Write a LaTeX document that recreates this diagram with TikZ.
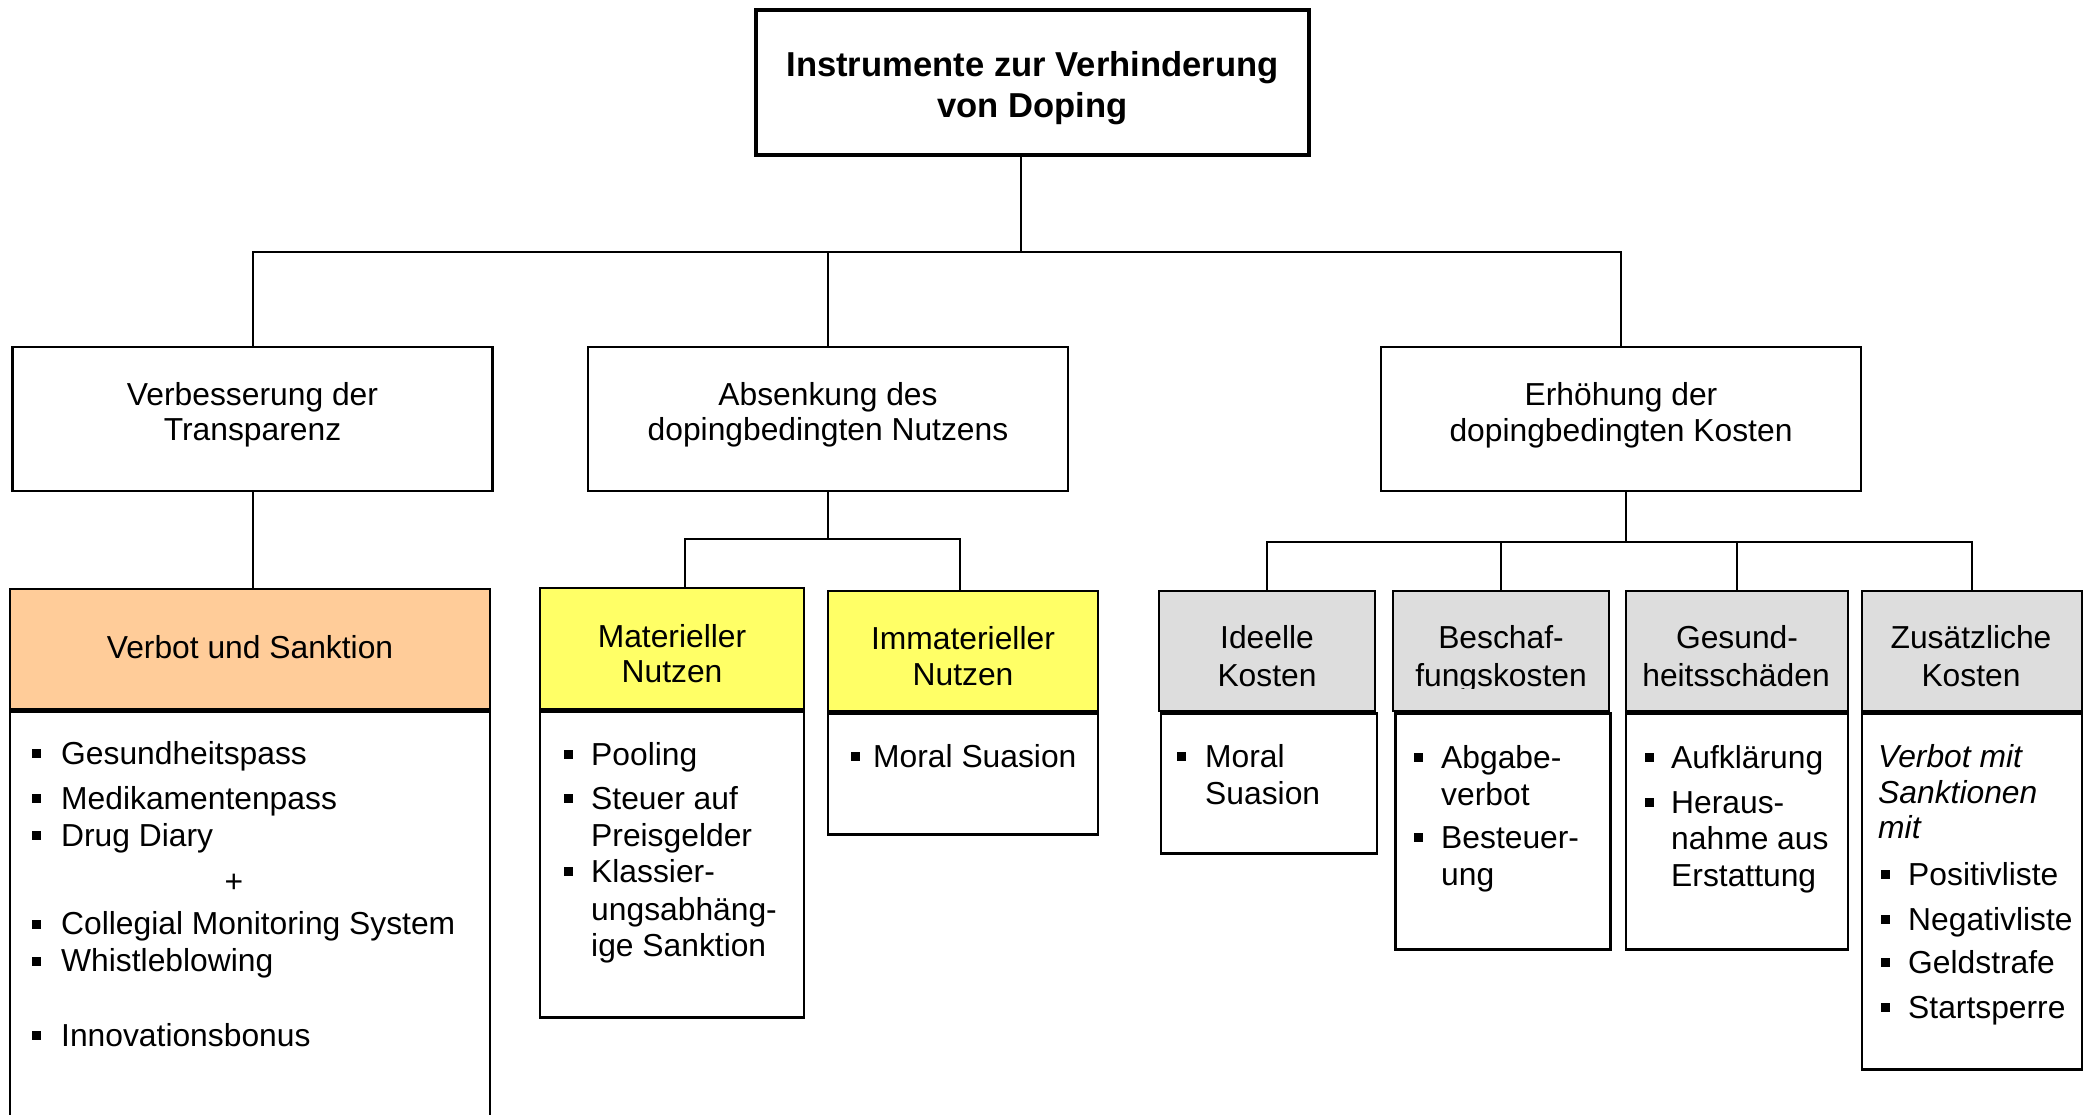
\documentclass[tikz,border=0pt]{standalone}
\usepackage{fontspec}
\setmainfont{Liberation Sans}
\usetikzlibrary{calc}
\definecolor{orangehead}{HTML}{FFCC99}
\definecolor{yellowhead}{HTML}{FFFF66}
\definecolor{grayhead}{HTML}{DDDDDD}
\newcommand{\txt}{\fontsize{31.8}{36}\selectfont}
\newcommand{\bul}[1][27pt]{\makebox[#1][l]{\rule[6pt]{9pt}{9pt}}}

\begin{document}
\begin{tikzpicture}[x=1pt,y=-1pt,
  box/.style={draw, line width=2.5pt, inner sep=0pt},
  head/.style={box, minimum height=120pt},
  body/.style={box, anchor=north, fill=white},
  conn/.style={line width=2pt},
  item/.style={anchor=base west, inner sep=0pt, font=\txt}]
  \useasboundingbox (0,0) rectangle (2092,1114);
  % Define the top and second level boxes
  \node[box, line width=4pt, minimum width=553pt, minimum height=145pt] (top) at (1032.5,82.5) {};
  \node[box, minimum width=480pt, minimum height=144pt] (verb) at (252.5,419) {};
  \node[box, minimum width=480pt, minimum height=144pt] (abs) at (828,419) {};
  \node[box, minimum width=480pt, minimum height=144pt] (erh) at (1621,419) {};
  % Draw the headers and their bodies
  \node[head, fill=orangehead, minimum width=480pt] (verbot) at (250,649) {};
  \node[body, minimum width=480pt, minimum height=421pt] (verbotbody) at (verbot.south) {};
  \node[head, fill=yellowhead, minimum width=264pt, minimum height=121pt] (mat) at (672,648.5) {};
  \node[body, minimum width=264pt, minimum height=306pt] (matbody) at (mat.south) {};
  \node[head, fill=yellowhead, minimum width=270pt] (imm) at (963,651) {};
  \node[body, minimum width=270pt, minimum height=121pt] (immbody) at (imm.south) {};
  \node[head, fill=grayhead, minimum width=216pt] (ide) at (1267,651) {};
  \node[body, minimum width=216pt, minimum height=140pt] (idebody) at ([xshift=2pt]ide.south) {};
  \node[head, fill=grayhead, minimum width=216pt] (besch) at (1501,651) {};
  \node[body, minimum width=215pt, minimum height=236pt] (beschbody) at ([xshift=2pt]besch.south) {};
  \node[head, fill=grayhead, minimum width=222pt] (ges) at (1737,651) {};
  \node[body, minimum width=222pt, minimum height=236pt] (gesbody) at (ges.south) {};
  \node[head, fill=grayhead, minimum width=220pt] (zus) at (1972,651) {};
  \node[body, minimum width=220pt, minimum height=356pt] (zusbody) at (zus.south) {};
  % Box titles, one node per line
  \node[item, anchor=base, font=\fontsize{34.6}{41}\selectfont\bfseries] (top-1) at (1032.5,76) {Instrumente zur Verhinderung};
  \node[item, anchor=base, font=\fontsize{34.6}{41}\selectfont\bfseries] (top-2) at (1032.5,117) {von Doping};
  \foreach \x/\y/\lbl [count=\i] in {252.5/405/Verbesserung der, 252.5/440/Transparenz, 828/405/Absenkung des, 828/440/dopingbedingten Nutzens, 1621/405/Erhöhung der, 1621/441/dopingbedingten Kosten}
  {
    \node[item, anchor=base] (lvl-\i) at (\x,\y) {\lbl};
  }
  \foreach \x/\y/\lbl [count=\i] in {250/658/Verbot und Sanktion, 672/647/Materieller, 672/682.5/Nutzen, 963/649/Immaterieller, 963/685/Nutzen, 1267/648/Ideelle, 1267/686/Kosten, 1501/648/Beschaf-, 1737/648/Gesund-, 1736/686/heitsschäden, 1971/648/Zusätzliche, 1971/686/Kosten}
  {
    \node[item, anchor=base] (head-\i) at (\x,\y) {\lbl};
  }
  % Header line cut off at the bottom
  \begin{scope}
    \clip (1393,600) rectangle (1609,688);
    \node[item, anchor=base] (besch-2) at (1501,686) {fungskosten};
  \end{scope}
  % Fill in the lists
  \foreach \y/\lbl [count=\i] in {764/Gesundheitspass, 809/Medikamentenpass, 846/Drug Diary, 934.6/Collegial Monitoring System, 971.7/Whistleblowing, 1046/Innovationsbonus}
  {
    \node[item] (verbot-\i) at (32,\y) {\bul[29pt]\lbl};
  }
  \node[item, anchor=base] (verbot-plus) at (234,892) {+};
  \foreach \x/\y/\lbl [count=\i] in {564/765/\bul Pooling, 564/809/\bul Steuer auf, 591/846/Preisgelder, 564/882/\bul Klassier-, 591/920/ungsabhäng-, 591/956/ige Sanktion}
  {
    \node[item] (mat-\i) at (\x,\y) {\lbl};
  }
  \node[item] (imm-1) at (851,767) {\bul[22pt]Moral Suasion};
  \foreach \x/\y/\lbl [count=\i] in {1177/767/\bul[28pt]Moral, 1205/804/Suasion}
  {
    \node[item] (ide-\i) at (\x,\y) {\lbl};
  }
  \foreach \x/\y/\lbl [count=\i] in {1414/768/\bul Abgabe-, 1441/805/verbot, 1414/848/\bul Besteuer-, 1441/885/ung}
  {
    \node[item] (beschitem-\i) at (\x,\y) {\lbl};
  }
  \foreach \x/\y/\lbl [count=\i] in {1645/768/\bul[26pt]Aufklärung, 1645/813/\bul[26pt]Heraus-, 1671/849/nahme aus, 1671/886/Erstattung}
  {
    \node[item] (ges-\i) at (\x,\y) {\lbl};
  }
  \foreach \x/\y/\lbl [count=\i] in {1878/767/\textit{Verbot mit}, 1878/803/\textit{Sanktionen}, 1878/838/\textit{mit}, 1881/885/\bul Positivliste, 1881/930/\bul Negativliste, 1881/973/\bul Geldstrafe, 1881/1018/\bul Startsperre}
  {
    \node[item] (zus-\i) at (\x,\y) {\lbl};
  }
  % Connect the levels
  \draw[conn] ([xshift=-12pt]top.south) -- ++(0,95) coordinate (j0);
  \draw[conn] (verb.north) |- (j0) -| (erh.north);
  \draw[conn] (abs.north) -- (abs.north |- j0);
  \draw[conn] (verb.south) -- (verb.south |- verbot.north);
  \draw[conn] (abs.south) -- ++(0,47) coordinate (j1);
  \draw[conn] ([xshift=13pt]mat.north) |- (j1) -| ([xshift=-3pt]imm.north);
  \draw[conn] ([xshift=5pt]erh.south) -- ++(0,50) coordinate (j2);
  \draw[conn] (ide.north) |- (j2) -| (zus.north);
  \foreach \n in {besch,ges}
  {
    \draw[conn] (\n.north) -- (\n.north |- j2);
  }
\end{tikzpicture}
\end{document}
